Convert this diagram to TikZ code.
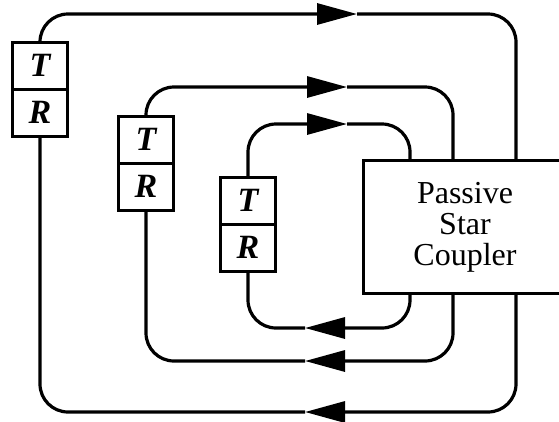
\documentclass[tikz,border=0pt]{standalone}
\usepackage{fontspec}
\setmainfont{Liberation Serif}
\usetikzlibrary{arrows.meta}
\begin{document}
\begin{tikzpicture}[x=1pt,y=-1pt,
  fiber/.style={line width=3.2pt, rounded corners=28pt},
  head/.style={-{Triangle[length=40pt,width=21pt]}},
  half/.style={draw, line width=3pt, fill=white, minimum width=55pt,
    minimum height=47pt, inner sep=0pt, outer sep=0pt,
    font=\fontsize{34}{34}\selectfont\bfseries\itshape},
]
\useasboundingbox (0,0) rectangle (559,421);

% transmitter / receiver pairs
\node[half] (T1) at (40,65.5) {T};
\node[half, anchor=north] (R1) at (T1.south) {R};
\node[half] (T2) at (146,139.5) {T};
\node[half, anchor=north] (R2) at (T2.south) {R};
\node[half] (T3) at (248,200.5) {T};
\node[half, anchor=north] (R3) at (T3.south) {R};

% star coupler (runs off the right edge)
\node[draw, line width=3pt, outer sep=0pt, anchor=north west,
  minimum width=240pt, minimum height=133pt] (coupler) at (363,160) {};
\node[font=\fontsize{32}{31}\selectfont, align=center] (label) at (465,227)
  {Passive\\Star\\Coupler};

% ports on the coupler
\coordinate (in1) at (516,160);
\coordinate (in2) at (453,160);
\coordinate (in3) at (410,160);
\coordinate (out1) at (516,293);
\coordinate (out2) at (453,293);
\coordinate (out3) at (410,293);

% arrow tips on the fibres
\coordinate (tx1) at (357,14);
\coordinate (tx2) at (347,87);
\coordinate (tx3) at (347,124);
\coordinate (rx1) at (305,412);
\coordinate (rx2) at (305,361);
\coordinate (rx3) at (305,328);

% transmit fibres
\draw[fiber, head] (T1.north) |- (tx1);
\draw[fiber] (tx1) -| (in1);
\draw[fiber, head] (T2.north) |- (tx2);
\draw[fiber] (tx2) -| (in2);
\draw[fiber, head] (T3.north) |- (tx3);
\draw[fiber] (tx3) -| (in3);

% receive fibres
\draw[fiber, head] (out1) |- (rx1);
\draw[fiber] (rx1) -| (R1.south);
\draw[fiber, head] (out2) |- (rx2);
\draw[fiber] (rx2) -| (R2.south);
\draw[fiber, head] (out3) |- (rx3);
\draw[fiber] (rx3) -| (R3.south);
\end{tikzpicture}
\end{document}
